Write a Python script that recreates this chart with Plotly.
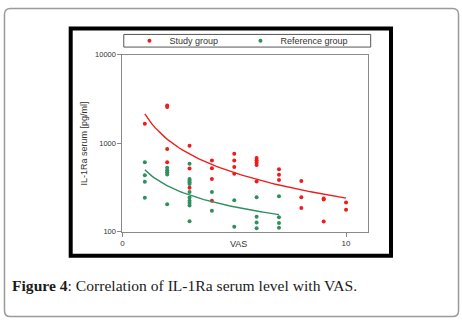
import numpy as np
import plotly.graph_objects as go

# ---- data ----
study_x = [1,
           2, 2, 2, 2,
           3, 3, 3,
           4, 4, 4, 4,
           5, 5, 5, 5,
           6, 6, 6, 6, 6,
           7, 7, 7,
           8, 8, 8,
           9, 9, 9,
           10, 10]
study_y = [1660,
           2680, 2570, 860, 610,
           940, 520, 315,
           640, 522, 395, 225,
           763, 639, 539, 452,
           684, 644, 608, 567, 371,
           509, 440, 385,
           374, 245, 186,
           238, 231, 131,
           215, 177]

ref_x = [1, 1, 1, 1,
         2, 2, 2, 2, 2,
         3, 3, 3, 3, 3, 3, 3, 3, 3, 3, 3,
         4, 4,
         5, 5,
         6, 6, 6, 6,
         7, 7, 7, 7]
ref_y = [612, 437, 369, 242,
         531, 496, 472, 445, 205,
         588, 395, 379, 363, 348, 282, 244, 225, 211, 198, 132,
         282, 173,
         228, 114,
         246, 148, 127, 110,
         252, 146, 126, 111]

x_ticks = [0, 10]
y_ticks = [100, 1000, 10000]
y_tick_labels = ["100", "1000", "10000"]
series_names = ["Study group", "Reference group"]
x_title = "VAS"
y_title = "IL-1Ra serum [pg/ml]"
caption_bold = "Figure 4"
caption_rest = ": Correlation of IL-1Ra serum level with VAS."

RED = "#ee1c1c"
GREEN = "#2f8f5f"

W, H = 462, 324


def px(x):
    return x / W


def py(y):
    return 1 - y / H


def power_fit(xs, ys):
    lx, ly = np.log10(xs), np.log10(ys)
    b, loga = np.polyfit(lx, ly, 1)
    xx = np.linspace(min(xs), max(xs), 60)
    return xx, 10 ** loga * xx ** b


fig = go.Figure()

for xs, ys, name, col in [(study_x, study_y, series_names[0], RED),
                          (ref_x, ref_y, series_names[1], GREEN)]:
    fig.add_trace(go.Scatter(x=xs, y=ys, mode="markers", name=name,
                             marker=dict(color=col, size=4, symbol="circle")))
    tx, ty = power_fit(xs, ys)
    fig.add_trace(go.Scatter(x=tx, y=ty, mode="lines", showlegend=False,
                             line=dict(color=col, width=1.4)))

axis_col = "#8a8a8a"
fig.update_xaxes(range=[0, 11], tickvals=x_ticks, ticks="outside", ticklen=4,
                 tickcolor=axis_col, showline=True, linecolor=axis_col, linewidth=1,
                 mirror=True, showgrid=False, zeroline=False,
                 tickfont=dict(family="Arial, Liberation Sans", size=8, color="#333"),
                 domain=[px(121), px(368)])
fig.update_yaxes(type="log", range=[2, 4], tickvals=y_ticks, ticktext=y_tick_labels,
                 ticks="outside", ticklen=4,
                 tickcolor=axis_col, showline=True, linecolor=axis_col, linewidth=1,
                 mirror=True, showgrid=False, zeroline=False,
                 tickfont=dict(family="Arial, Liberation Sans", size=7.5, color="#333"),
                 domain=[py(234.3), py(52.3)])

shapes = []
# outer rounded border
r = 6
x0, x1, y0, y1 = 2.5, 458.5, 4.5, 321.5
path = (f"M {px(x0 + r)},{py(y0)} L {px(x1 - r)},{py(y0)} "
        f"Q {px(x1)},{py(y0)} {px(x1)},{py(y0 + r)} "
        f"L {px(x1)},{py(y1 - r)} Q {px(x1)},{py(y1)} {px(x1 - r)},{py(y1)} "
        f"L {px(x0 + r)},{py(y1)} Q {px(x0)},{py(y1)} {px(x0)},{py(y1 - r)} "
        f"L {px(x0)},{py(y0 + r)} Q {px(x0)},{py(y0)} {px(x0 + r)},{py(y0)} Z")
shapes.append(dict(type="path", xref="paper", yref="paper", path=path,
                   line=dict(color="#9a9a9a", width=1.5)))
# black frame
shapes.append(dict(type="rect", xref="paper", yref="paper",
                   x0=px(69), x1=px(390.7), y0=py(259), y1=py(25.3),
                   line=dict(color="black", width=4)))
# legend box
shapes.append(dict(type="rect", xref="paper", yref="paper",
                   x0=px(122.3), x1=px(370.3), y0=py(44.3), y1=py(31.3),
                   line=dict(color="#555", width=1)))

annotations = [
    dict(text=x_title, xref="paper", yref="paper", x=px(238), y=py(246.5),
         showarrow=False, xanchor="center", yanchor="middle",
         font=dict(family="Arial, Liberation Sans", size=9, color="#333")),
    dict(text=y_title, xref="paper", yref="paper", x=px(82.5), y=py(143.3),
         showarrow=False, textangle=-90, xanchor="center", yanchor="middle",
         font=dict(family="Arial, Liberation Sans", size=9, color="#333")),
    dict(text=f"<b>{caption_bold}</b>{caption_rest}", xref="paper", yref="paper",
         x=px(8), y=py(289.5), showarrow=False, xanchor="left", yanchor="middle",
         font=dict(family="Liberation Serif, Times New Roman, serif", size=15.6,
                   color="#1a1a1a")),
]

fig.update_layout(
    width=W, height=H, margin=dict(l=0, r=0, t=0, b=0),
    paper_bgcolor="white", plot_bgcolor="white",
    shapes=shapes, annotations=annotations,
    legend=dict(orientation="h", x=px(128), xanchor="left", y=py(37.7), yanchor="middle",
                bgcolor="rgba(0,0,0,0)", borderwidth=0, entrywidth=66,
                font=dict(family="Arial, Liberation Sans", size=9, color="#333"),
                itemclick=False, itemdoubleclick=False),
    showlegend=True,
)

fig.write_html("out.html", config={"displayModeBar": False},
               post_script="document.body.style.margin='0';document.body.style.padding='0';")
